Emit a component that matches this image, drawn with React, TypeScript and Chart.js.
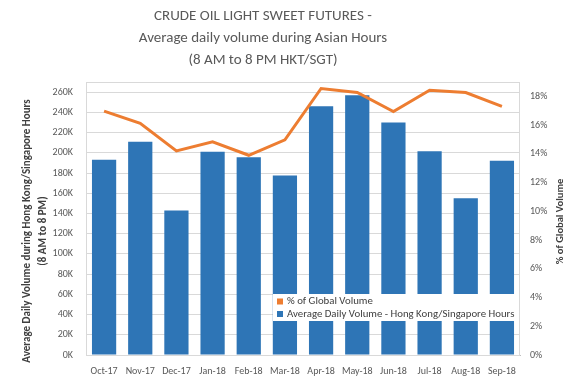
import { useEffect, useRef } from 'react';
import { Chart, registerables } from 'chart.js';
Chart.register(...registerables);

const categories = ['Oct-17', 'Nov-17', 'Dec-17', 'Jan-18', 'Feb-18', 'Mar-18', 'Apr-18', 'May-18', 'Jun-18', 'Jul-18', 'Aug-18', 'Sep-18'];
const volumeHK = [193000, 211000, 143000, 201000, 195500, 177500, 246000, 257000, 230000, 201500, 155000, 192000];
const pctGlobal = [16.97, 16.13, 14.2, 14.83, 13.9, 14.97, 18.55, 18.27, 16.95, 18.43, 18.27, 17.3];
const volumeTickValues = [0, 20000, 40000, 60000, 80000, 100000, 120000, 140000, 160000, 180000, 200000, 220000, 240000, 260000];
const pctTickValues = [0, 2, 4, 6, 8, 10, 12, 14, 16, 18];
const titleLines = ['CRUDE OIL LIGHT SWEET FUTURES -', 'Average daily volume during Asian Hours', '(8 AM to 8 PM HKT/SGT)'];
const leftAxisTitle = ['Average Daily Volume during Hong Kong/Singapore Hours', '(8 AM to 8 PM)'];
const rightAxisTitle = '% of Global Volume';
const lineLabel = '% of Global Volume';
const barLabel = 'Average Daily Volume - Hong Kong/Singapore Hours';
const volumeMax = 270000;
const pctMax = 19;

const FONT = 'Carlito, Lato, "Open Sans", sans-serif';
const TEXT = '#595959';

const textPlugin = {
  id: 'customText',
  afterDatasetsDraw(chart: any) {
    const { ctx, chartArea } = chart;
    ctx.save();
    ctx.strokeStyle = '#D9D9D9';
    ctx.lineWidth = 1;
    ctx.strokeRect(chartArea.left + 0.5, chartArea.top + 0.5, chartArea.right - chartArea.left - 1, chartArea.bottom - chartArea.top);
    const lx = 273, ly = 294, lw = 246, lh = 27;
    ctx.fillStyle = '#FFFFFF';
    ctx.fillRect(lx, ly, lw, lh);
    const items = [chart.data.datasets[0], chart.data.datasets[1]];
    ctx.font = `10.8px ${FONT}`;
    ctx.textBaseline = 'middle';
    ctx.textAlign = 'left';
    items.forEach((ds: any, i: number) => {
      const y = ly + 7.5 + i * 12.5;
      ctx.fillStyle = ds.type === 'line' ? ds.borderColor : ds.backgroundColor;
      ctx.fillRect(lx + 4, y - 3, 6, 6);
      ctx.fillStyle = '#404040';
      ctx.fillText(ds.label, lx + 14, y);
    });
    ctx.restore();
  },
  afterDraw(chart: any) {
    const { ctx, chartArea } = chart;
    ctx.save();
    ctx.fillStyle = TEXT;
    ctx.textAlign = 'center';
    ctx.textBaseline = 'middle';
    ctx.font = `15px ${FONT}`;
    titleLines.forEach((t, i) => ctx.fillText(t, 263, 16 + i * 22));
    ctx.font = `bold 11px ${FONT}`;
    ctx.fillStyle = '#404040';
    const cy = 231;
    leftAxisTitle.forEach((t, i) => {
      ctx.save();
      ctx.translate(27 + i * 16, cy);
      ctx.rotate(-Math.PI / 2);
      ctx.fillText(t, 0, 0);
      ctx.restore();
    });
    ctx.font = `bold 10.5px ${FONT}`;
    ctx.save();
    ctx.translate(560, (chartArea.top + chartArea.bottom) / 2 + 3);
    ctx.rotate(-Math.PI / 2);
    ctx.fillText(rightAxisTitle, 0, 0);
    ctx.restore();
    ctx.restore();
  },
};

export default function App() {
  const ref = useRef<HTMLCanvasElement>(null);
  useEffect(() => {
    if (!ref.current) return;
    const chart = new Chart(ref.current, {
      type: 'bar',
      data: {
        labels: categories,
        datasets: [
          {
            type: 'line',
            label: lineLabel,
            data: pctGlobal,
            borderColor: '#ED7D31',
            backgroundColor: '#ED7D31',
            borderWidth: 3,
            pointRadius: 0,
            tension: 0,
            yAxisID: 'y1',
            order: 0,
          } as any,
          {
            type: 'bar',
            label: barLabel,
            data: volumeHK,
            backgroundColor: '#2E75B6',
            borderWidth: 0,
            categoryPercentage: 1,
            barPercentage: 0.67,
            yAxisID: 'y',
            order: 1,
          },
        ],
      },
      options: {
        animation: false,
        responsive: false,
        maintainAspectRatio: false,
        layout: { padding: { top: 82, left: 0, right: 0, bottom: 0 } },
        plugins: { legend: { display: false }, title: { display: false }, tooltip: { enabled: false } },
        scales: {
          x: {
            grid: { display: false, drawTicks: false },
            border: { display: true, color: '#BFBFBF' },
            ticks: { color: TEXT, font: { family: FONT, size: 10 }, padding: 10, maxRotation: 0, autoSkip: false },
            afterFit(s: any) { s.height = 28; },
          },
          y: {
            position: 'left',
            min: 0,
            max: volumeMax,
            grid: { color: '#D9D9D9', drawTicks: false },
            border: { display: false },
            ticks: {
              color: TEXT,
              font: { family: FONT, size: 10 },
              padding: 13,
              autoSkip: false,
              callback: (v: any) => `${Math.round(Number(v) / 1000)}K`,
            },
            afterBuildTicks(s: any) { s.ticks = volumeTickValues.map((value) => ({ value })); },
            afterFit(s: any) { s.width = 86; },
          },
          y1: {
            position: 'right',
            min: 0,
            max: pctMax,
            grid: { display: false, drawTicks: false },
            border: { display: false },
            ticks: {
              color: TEXT,
              font: { family: FONT, size: 10 },
              padding: 10,
              autoSkip: false,
              callback: (v: any) => `${v}%`,
            },
            afterBuildTicks(s: any) { s.ticks = pctTickValues.map((value) => ({ value })); },
            afterFit(s: any) { s.width = 62; },
          },
        },
      },
      plugins: [textPlugin],
    });
    return () => chart.destroy();
  }, []);
  return (
    <div style={{ position: 'absolute', left: 0, top: 0, width: 582, height: 383, background: '#fff' }}>
      <canvas ref={ref} width={582} height={383} style={{ width: 582, height: 383 }} />
    </div>
  );
}
